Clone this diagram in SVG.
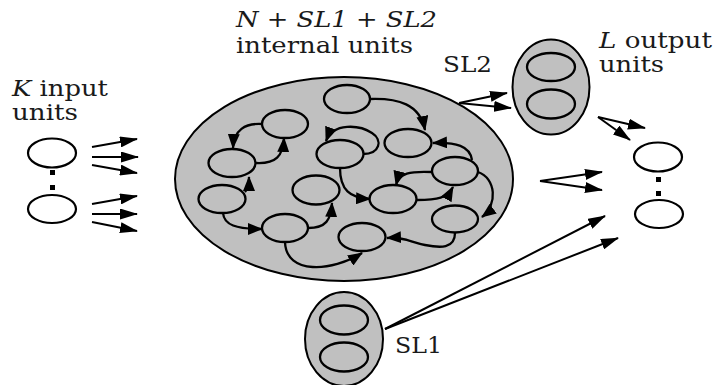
<svg xmlns="http://www.w3.org/2000/svg" width="715" height="385" viewBox="0 0 715 385">
<style>
  .lbl { font-family: "DejaVu Serif", "Liberation Serif", serif; font-size: 23px; fill: #1a1a1a; }
  .it { font-style: italic; }
  .unit { fill: #fff; stroke: #000; stroke-width: 2.2; }
  .inner { fill: #c0c0c0; stroke: #000; stroke-width: 2.3; }
  .pool { fill: #c0c0c0; stroke: #000; stroke-width: 2; }
  .dot { fill: #000; }
  .big { fill: none; stroke: #000; stroke-width: 2; marker-end: url(#ah); }
  .small { fill: none; stroke: #000; stroke-width: 2.3; marker-end: url(#sh); }
</style>
<defs>
  <marker id="ah" markerUnits="userSpaceOnUse" markerWidth="18" markerHeight="11" refX="17" refY="5.5" orient="auto">
    <path d="M0,0 L18,5.5 L0,11 z" fill="#000"/>
  </marker>
  <marker id="sh" markerUnits="userSpaceOnUse" markerWidth="15" markerHeight="12" refX="14" refY="6" orient="auto">
    <path d="M0,0 L15,6 L0,12 z" fill="#000"/>
  </marker>
</defs>
<rect width="715" height="385" fill="#fff"/>

<!-- labels -->
<g id="labels">
  <text class="lbl" x="12" y="96" textLength="96" lengthAdjust="spacingAndGlyphs"><tspan class="it">K</tspan> input</text>
  <text class="lbl" x="12" y="120" textLength="66" lengthAdjust="spacingAndGlyphs">units</text>
  <text class="lbl" x="236" y="27" textLength="201" lengthAdjust="spacingAndGlyphs"><tspan class="it">N</tspan> + <tspan class="it">SL1</tspan> + <tspan class="it">SL2</tspan></text>
  <text class="lbl" x="236" y="53" textLength="177" lengthAdjust="spacingAndGlyphs">internal units</text>
  <text class="lbl" x="443" y="72" textLength="49" lengthAdjust="spacingAndGlyphs">SL2</text>
  <text class="lbl" x="599" y="48" textLength="113" lengthAdjust="spacingAndGlyphs"><tspan class="it">L</tspan> output</text>
  <text class="lbl" x="599" y="72" textLength="65" lengthAdjust="spacingAndGlyphs">units</text>
  <text class="lbl" x="395" y="353" textLength="47" lengthAdjust="spacingAndGlyphs">SL1</text>
</g>

<!-- input units -->
<g id="input1"><ellipse class="unit" cx="52" cy="153" rx="24" ry="14.5"/></g>
<g id="input-dots"><rect class="dot" x="50" y="170" width="5" height="5"/><rect class="dot" x="50" y="185" width="5" height="5"/></g>
<g id="input2"><ellipse class="unit" cx="52" cy="209" rx="24" ry="14"/></g>

<!-- reservoir -->
<g id="reservoir"><ellipse class="pool" cx="344" cy="179" rx="169" ry="102"/></g>
<g id="n1"><ellipse class="inner" cx="347" cy="99" rx="23" ry="14"/></g>
<g id="n2"><ellipse class="inner" cx="285" cy="124" rx="23" ry="14"/></g>
<g id="n3"><ellipse class="inner" cx="232" cy="163" rx="23.5" ry="14"/></g>
<g id="n4"><ellipse class="inner" cx="222" cy="199" rx="23.5" ry="14"/></g>
<g id="n5"><ellipse class="inner" cx="285" cy="228" rx="23" ry="14"/></g>
<g id="n6"><ellipse class="inner" cx="316" cy="190" rx="23.5" ry="14.5"/></g>
<g id="n7"><ellipse class="inner" cx="340" cy="154" rx="23.5" ry="14"/></g>
<g id="n8"><ellipse class="inner" cx="362" cy="237" rx="23.5" ry="14"/></g>
<g id="n9"><ellipse class="inner" cx="408" cy="143" rx="23.5" ry="14"/></g>
<g id="n10"><ellipse class="inner" cx="393" cy="199" rx="23.5" ry="14"/></g>
<g id="n11"><ellipse class="inner" cx="455" cy="171" rx="23" ry="14"/></g>
<g id="n12"><ellipse class="inner" cx="455" cy="219" rx="23" ry="13.5"/></g>

<!-- SL2 -->
<g id="sl2">
  <ellipse class="pool" cx="551" cy="87" rx="38.5" ry="47.5"/>
  <ellipse class="inner" cx="551" cy="67" rx="24" ry="14"/>
  <ellipse class="inner" cx="551" cy="104" rx="24" ry="14.5"/>
</g>

<!-- SL1 -->
<g id="sl1">
  <ellipse class="pool" cx="344" cy="339" rx="39" ry="47"/>
  <ellipse class="inner" cx="344" cy="320" rx="24" ry="14.5"/>
  <ellipse class="inner" cx="344" cy="357" rx="24" ry="14.5"/>
</g>

<!-- output units -->
<g id="output1"><ellipse class="unit" cx="658" cy="157" rx="24" ry="14.5"/></g>
<g id="output-dots"><rect class="dot" x="656" y="177" width="5" height="5"/><rect class="dot" x="656" y="191" width="5" height="5"/></g>
<g id="output2"><ellipse class="unit" cx="659" cy="214" rx="24" ry="14"/></g>

<!-- connectors -->
<g id="connectors">
  <path class="big" d="M92,147 L137,139"/>
  <path class="big" d="M92,157 L138,157"/>
  <path class="big" d="M92,165 L137,173"/>
  <path class="big" d="M92,204 L137,196"/>
  <path class="big" d="M92,214 L137,214"/>
  <path class="big" d="M92,222 L137,231"/>
  <path class="big" d="M459,103 L507,93"/>
  <path class="big" d="M459,103 L511,108"/>
  <path class="big" d="M598,117 L645,128"/>
  <path class="big" d="M598,117 L630,140"/>
  <path class="big" d="M540,181 L602,172"/>
  <path class="big" d="M540,181 L602,190"/>
  <path class="big" d="M385,329 L605,216"/>
  <path class="big" d="M385,329 L618,238"/>

  <path class="small" d="M370,99 C398,98 420,104 425,130"/>
  <path class="small" d="M262,124 C245,123 234,130 233,148"/>
  <path class="small" d="M256,163 C276,164 283,156 284,138"/>
  <path class="small" d="M245,192 Q249,188 249,177"/>
  <path class="small" d="M223,213 C224,225 236,229 262,229"/>
  <path class="small" d="M308,228 C326,228 331,220 332,203"/>
  <path class="small" d="M285,242 C286,275 332,272 362,253"/>
  <path class="small" d="M363,154 C380,154 383,140 372,133 C360,125 333,122 326,141"/>
  <path class="small" d="M340,168 C340,190 350,198 370,199"/>
  <path class="small" d="M417,200 C438,200 447,198 453,187"/>
  <path class="small" d="M432,172 C410,171 399,173 396,185"/>
  <path class="small" d="M472,160 C470,146 456,142 433,143"/>
  <path class="small" d="M478,172 C496,178 498,205 482,217"/>
  <path class="small" d="M455,233 C455,249 440,248 425,245 C410,242 405,237 387,238"/>
</g>
</svg>
